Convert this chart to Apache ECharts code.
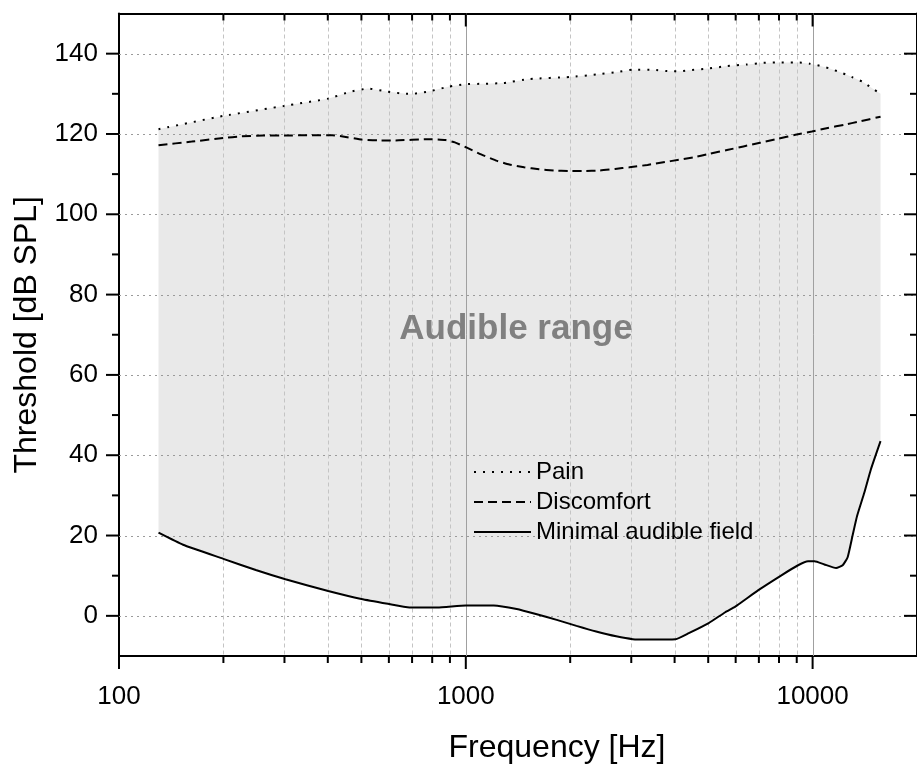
<!DOCTYPE html>
<html><head><meta charset="utf-8">
<script src="https://cdn.jsdelivr.net/npm/echarts@6/dist/echarts.min.js"></script>
<style>html,body{margin:0;padding:0;overflow:hidden;background:#fff}#c{width:917px;height:769px}</style>
</head><body><div id="c"></div>
<script>
// ---- data (frequency in Hz, threshold in dB SPL) ----
const freqPain = [130, 200, 300, 401, 463, 522, 590, 673, 703, 793, 895, 1000, 1127, 1285, 1530, 2000, 2376, 2714, 3030, 3455, 3898, 4165, 4446, 5017, 5664, 6460, 7210, 8130, 9185, 9800, 10470, 11190, 11810, 12480, 13040, 13930, 14550, 15700];
const pain = [121.2, 124.5, 127.0, 128.8, 130.5, 131.3, 130.6, 130.0, 130.0, 130.7, 131.8, 132.4, 132.5, 132.7, 133.7, 134.2, 134.8, 135.4, 136.0, 136.0, 135.6, 135.6, 135.9, 136.3, 136.9, 137.3, 137.7, 137.8, 137.8, 137.5, 137.0, 136.3, 135.6, 134.8, 134.1, 133.0, 131.9, 130.0];

const freqDisc = [130, 162, 200, 225, 260, 303, 354, 412, 455, 502, 561, 626, 782, 874, 930, 1000, 1107, 1232, 1335, 1473, 1626, 1795, 1982, 2188, 2431, 2695, 2962, 3342, 4545, 5070, 5664, 6318, 7050, 7955, 8920, 9950, 11060, 12350, 13630, 15700];
const disc = [117.2, 118.1, 119.0, 119.4, 119.6, 119.6, 119.7, 119.7, 119.2, 118.6, 118.4, 118.4, 118.7, 118.5, 117.9, 116.7, 114.9, 113.3, 112.4, 111.7, 111.2, 110.9, 110.8, 110.8, 110.9, 111.3, 111.7, 112.3, 114.2, 115.1, 116.0, 116.9, 117.8, 118.8, 119.8, 120.6, 121.5, 122.3, 123.1, 124.3];

const freqMAF = [130, 153, 200, 248, 302, 401, 500, 596, 688, 828, 1000, 1204, 1402, 1602, 1829, 2085, 2376, 2714, 3030, 3304, 4027, 4396, 5017, 5598, 5985, 6975, 8130, 9080, 9700, 10130, 10810, 11690, 12210, 12620, 13040, 13440, 14100, 14730, 15700];
const maf = [20.7, 17.7, 14.2, 11.4, 9.1, 6.2, 4.2, 3.0, 2.1, 2.1, 2.6, 2.6, 1.7, 0.4, -1.0, -2.5, -3.9, -5.1, -5.8, -5.9, -5.8, -4.3, -1.8, 0.9, 2.3, 6.4, 10.1, 12.6, 13.6, 13.6, 12.8, 11.9, 12.6, 14.6, 20.0, 24.9, 30.7, 36.5, 43.5];

const seriesNames = ['Pain', 'Discomfort', 'Minimal audible field'];
const xMajorTicks = [100, 1000, 10000];
const xMinorTicks = [200, 300, 400, 500, 600, 700, 800, 900, 2000, 3000, 4000, 5000, 6000, 7000, 8000, 9000];
const yMajorTicks = [0, 20, 40, 60, 80, 100, 120, 140];
const yMinorTicks = [10, 30, 50, 70, 90, 110, 130];
const X_MIN = 100, X_MAX = 20000, Y_MIN = -10, Y_MAX = 150;

const FONT = '"Liberation Sans", Arial, sans-serif';
const zip = (xs, ys) => xs.map((x, i) => [x, ys[i]]);
const seg = (x1, y1, x2, y2, style) => ({ type: 'line', shape: { x1, y1, x2, y2 }, style });

const chart = echarts.init(document.getElementById('c'), null, { renderer: 'canvas' });

const gridItems = []
  .concat(xMinorTicks.map(v => [v, Y_MIN, 0]))
  .concat(xMajorTicks.filter(v => v > X_MIN).map(v => [v, Y_MIN, 1]))
  .concat(yMajorTicks.map(v => [X_MIN, v, 2]));

const tickItems = []
  .concat(xMajorTicks.map(v => [v, Y_MIN, 0, 1]))
  .concat(xMinorTicks.map(v => [v, Y_MIN, 0, 0]))
  .concat(yMajorTicks.map(v => [X_MIN, v, 1, 1]))
  .concat(yMinorTicks.map(v => [X_MIN, v, 1, 0]));

const axisLine = { show: true, onZero: false, lineStyle: { color: '#000', width: 2 } };

const option = {
  animation: false,
  backgroundColor: '#fff',
  grid: { left: 119, top: 13.5, right: -6, bottom: 107.5, containLabel: false },
  xAxis: [
    {
      type: 'log', logBase: 10, min: X_MIN, max: X_MAX, position: 'bottom',
      name: 'Frequency [Hz]', nameLocation: 'middle', nameGap: 76,
      nameTextStyle: { fontSize: 32, color: '#000', fontFamily: FONT, padding: [0, 0, 0, 78] },
      axisLine: axisLine,
      axisTick: { show: false },
      splitLine: { show: false }, minorTick: { show: false }, minorSplitLine: { show: false },
      axisLabel: {
        fontSize: 26, color: '#000', fontFamily: FONT, margin: 28, showMaxLabel: false,
        formatter: v => (xMajorTicks.some(t => Math.abs(t - v) / t < 1e-6) ? String(Math.round(v)) : '')
      }
    },
    {
      type: 'log', logBase: 10, min: X_MIN, max: X_MAX, position: 'top',
      axisLine: axisLine,
      axisTick: { show: false }, axisLabel: { show: false }, splitLine: { show: false }
    }
  ],
  yAxis: [
    {
      type: 'value', min: Y_MIN, max: Y_MAX, interval: 10, position: 'left',
      name: 'Threshold [dB SPL]', nameLocation: 'middle', nameGap: 76,
      nameTextStyle: { fontSize: 32, color: '#000', fontFamily: FONT },
      axisLine: axisLine,
      axisTick: { show: false }, splitLine: { show: false },
      axisLabel: {
        fontSize: 26, color: '#000', fontFamily: FONT, margin: 21,
        formatter: v => (yMajorTicks.indexOf(v) >= 0 ? String(v) : '')
      }
    },
    {
      type: 'value', min: Y_MIN, max: Y_MAX, interval: 10, position: 'right',
      axisLine: axisLine,
      axisTick: { show: false }, axisLabel: { show: false }, splitLine: { show: false }
    }
  ],
  legend: {
    orient: 'vertical', left: 473, top: 457, padding: 0, itemWidth: 57, itemHeight: 14, itemGap: 0,
    data: seriesNames, selectedMode: false,
    itemStyle: { opacity: 0, color: 'rgba(0,0,0,0)', borderWidth: 0 },
    textStyle: { fontSize: 24, color: '#000', fontFamily: FONT, lineHeight: 30 }
  },
  graphic: [{
    type: 'text', x: 516, y: 329, z: 100,
    style: { text: 'Audible range', font: 'bold 35px "Liberation Sans", Arial, sans-serif', fill: '#808080', align: 'center', verticalAlign: 'middle' }
  }],
  series: [
    {
      type: 'custom', name: 'fill', coordinateSystem: 'cartesian2d', xAxisIndex: 0, yAxisIndex: 0,
      z: 1, silent: true, clip: false,
      data: [[freqMAF[0], maf[0]]],
      renderItem(params, api) {
        const pts = [];
        freqMAF.forEach((f, i) => pts.push(api.coord([f, maf[i]])));
        for (let i = freqPain.length - 1; i >= 0; i--) pts.push(api.coord([freqPain[i], pain[i]]));
        return { type: 'polygon', shape: { points: pts }, style: { fill: '#e9e9e9', stroke: null } };
      }
    },
    {
      type: 'custom', name: 'grid', coordinateSystem: 'cartesian2d', xAxisIndex: 0, yAxisIndex: 0,
      z: 2, silent: true, clip: false, data: gridItems,
      renderItem(params, api) {
        const cs = params.coordSys;
        const k = api.value(2);
        if (k === 2) {
          const y = Math.round(api.coord([X_MIN, api.value(1)])[1]) + 0.5;
          return seg(cs.x, y, cs.x + cs.width, y, { stroke: '#9a9a9a', lineWidth: 1, lineDash: [2, 4] });
        }
        const x = Math.round(api.coord([api.value(0), Y_MIN])[0]) + 0.5;
        if (k === 1) return seg(x, cs.y, x, cs.y + cs.height, { stroke: '#a0a0a0', lineWidth: 1 });
        return seg(x, cs.y, x, cs.y + cs.height, { stroke: '#c4c4c4', lineWidth: 1, lineDash: [4, 3] });
      }
    },
    {
      type: 'line', name: seriesNames[0], data: zip(freqPain, pain), symbol: 'none', z: 3, smooth: 0.15,
      itemStyle: { color: '#000' },
      lineStyle: { color: '#000', width: 2, type: [2, 7] }
    },
    {
      type: 'line', name: seriesNames[1], data: zip(freqDisc, disc), symbol: 'none', z: 3, smooth: 0.15,
      itemStyle: { color: '#000' },
      lineStyle: { color: '#000', width: 2, type: [9, 5] }
    },
    {
      type: 'line', name: seriesNames[2], data: zip(freqMAF, maf), symbol: 'none', z: 3, smooth: 0.15,
      itemStyle: { color: '#000' },
      lineStyle: { color: '#000', width: 2, type: 'solid' }
    },
    {
      type: 'custom', name: 'ticks', coordinateSystem: 'cartesian2d', xAxisIndex: 0, yAxisIndex: 0,
      z: 5, silent: true, clip: false, data: tickItems,
      renderItem(params, api) {
        const cs = params.coordSys;
        const len = api.value(3) ? 13 : 7;
        const st = { stroke: '#000', lineWidth: 2 };
        if (api.value(2) === 0) {
          const x = api.coord([api.value(0), Y_MIN])[0];
          const yb = cs.y + cs.height, yt = cs.y;
          return { type: 'group', children: [seg(x, yb, x, yb + len, st), seg(x, yt, x, yt + len, st)] };
        }
        const y = api.coord([X_MIN, api.value(1)])[1];
        const xl = cs.x, xr = cs.x + cs.width;
        return { type: 'group', children: [seg(xl - len, y, xl, y, st), seg(xr - len, y, xr, y, st)] };
      }
    }
  ]
};
chart.setOption(option);
</script>
</body></html>
